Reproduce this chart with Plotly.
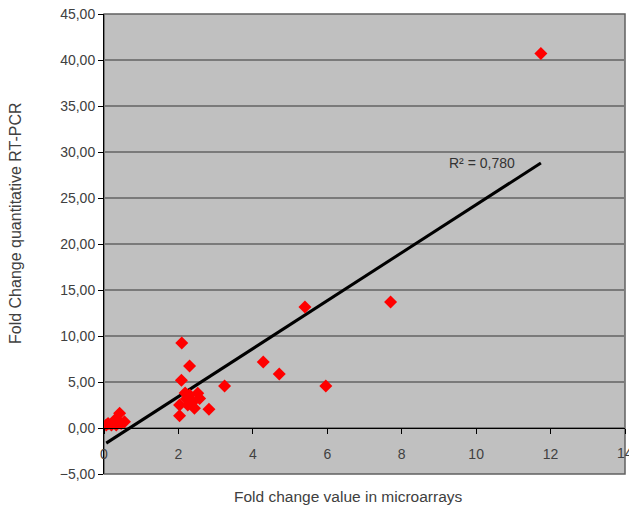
import plotly.graph_objects as go

# Data
fold_microarray = [11.74, 7.70, 5.40, 4.28, 4.71, 5.96, 3.24, 2.09, 2.30, 2.08,
                   2.30, 2.52, 2.57, 2.39, 2.03, 2.25, 2.43, 2.82, 2.03, 2.21, 2.18,
                   0.42, 0.29, 0.11, 0.20, 0.46, 0.55, 0.33, 0.06]
fold_rtpcr = [40.70, 13.70, 13.15, 7.17, 5.87, 4.57, 4.57, 9.24, 6.74, 5.20,
              3.60, 3.77, 3.20, 2.86, 2.50, 2.50, 2.14, 2.03, 1.34, 3.15, 3.80,
              1.60, 0.87, 0.50, 0.33, 0.50, 0.68, 0.33, 0.33]
trend_slope = 2.607
trend_intercept = -1.80
r2_label = "R² = 0,780"
x_ticks = [0, 2, 4, 6, 8, 10, 12, 14]
y_ticks = [-5, 0, 5, 10, 15, 20, 25, 30, 35, 40, 45]

FONT = "Liberation Sans, Arial, sans-serif"
TXT = "#404040"

xmin, xmax = min(fold_microarray), max(fold_microarray)
trend_x = [xmin, xmax]
trend_y = [trend_slope * v + trend_intercept for v in trend_x]

fig = go.Figure()
fig.add_trace(go.Scatter(x=trend_x, y=trend_y, mode="lines",
                         line=dict(color="black", width=3), hoverinfo="skip"))
fig.add_trace(go.Scatter(x=fold_microarray, y=fold_rtpcr, mode="markers",
                         marker=dict(symbol="diamond", color="#ff0000", size=10,
                                     line=dict(width=0))))

fig.update_layout(
    width=629, height=509,
    margin=dict(l=104, r=4, t=14, b=35),
    paper_bgcolor="white", plot_bgcolor="#c0c0c0",
    showlegend=False,
    separators=",.",
    font=dict(family=FONT, size=14, color=TXT),
    xaxis=dict(range=[0, 14], tickvals=x_ticks, showgrid=False, zeroline=False,
               anchor="free", position=0.1, showline=True, linecolor="black",
               linewidth=1, ticks="outside", ticklen=5, tickcolor="black",
               ticklabelstandoff=8, tickfont=dict(size=14, color=TXT)),
    yaxis=dict(range=[-5, 45], tickvals=y_ticks, tickformat=".2f",
               showgrid=True, gridcolor="#7a7a7a", gridwidth=1.5, zeroline=False,
               showline=True, linecolor="black", linewidth=1,
               ticks="outside", ticklen=5, tickcolor="black",
               tickfont=dict(size=14, color=TXT)),
    shapes=[dict(type="rect", xref="paper", yref="paper", x0=0, x1=1, y0=0, y1=1,
                 line=dict(color="#606060", width=1.5), layer="below")],
)

fig.add_annotation(x=10.16, y=28.8, xref="x", yref="y", text=r2_label,
                   showarrow=False, font=dict(size=14, color="#333333"))
# last x tick label, partly cut by the right edge as in the reference
fig.add_annotation(x=x_ticks[-1], y=-2.75, xref="x", yref="y", text=str(x_ticks[-1]),
                   showarrow=False, font=dict(size=14, color=TXT),
                   xanchor="center", yanchor="middle")
# axis titles as paper annotations
fig.add_annotation(x=(348 - 104) / 521, y=-(496 - 474) / 460, xref="paper", yref="paper",
                   text="Fold change value in microarrays", showarrow=False,
                   font=dict(size=15.5, color=TXT), xanchor="center", yanchor="middle")
fig.add_annotation(x=-(104 - 15) / 521, y=(474 - 223) / 460, xref="paper", yref="paper",
                   text="Fold Change quantitative RT-PCR", showarrow=False, textangle=-90,
                   font=dict(size=16, color=TXT), xanchor="center", yanchor="middle")

fig.write_html("out.html", config={"displayModeBar": False})

# remove default browser body margin so the figure fills the window exactly
with open("out.html", "r", encoding="utf-8") as f:
    html = f.read()
html = html.replace("<head>", "<head><style>html,body{margin:0;padding:0;overflow:hidden;}</style>", 1)
with open("out.html", "w", encoding="utf-8") as f:
    f.write(html)
